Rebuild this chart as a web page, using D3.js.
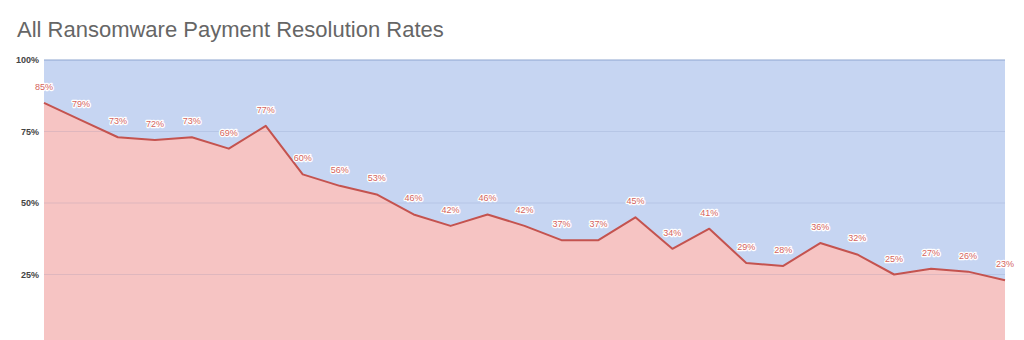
<!DOCTYPE html>
<html><head><meta charset="utf-8">
<script src="https://cdn.jsdelivr.net/npm/d3@7"></script>
<style>
html,body{margin:0;padding:0;background:#fff;overflow:hidden;}
svg{display:block;}
</style></head>
<body>
<svg id="c" width="1024" height="340"></svg>
<script>
const title = "All Ransomware Payment Resolution Rates";
const periods = d3.range(1, 28);
const rates = [85, 79, 73, 72, 73, 69, 77, 60, 56, 53, 46, 42, 46, 42, 37, 37, 45, 34, 41, 29, 28, 36, 32, 25, 27, 26, 23];
const yTicks = [25, 50, 75, 100];

(function () {
const svg = d3.select("#c");
const mLeft = 44, mRight = 1005, mTop = 60, mBottom = 346;

const x = d3.scalePoint().domain(periods).range([mLeft, mRight]);
const y = d3.scaleLinear().domain([0, 100]).range([mBottom, mTop]);
const data = periods.map((p, i) => ({p, v: rates[i]}));

svg.append("text").attr("x", 17).attr("y", 37)
  .attr("font-family", "Liberation Sans, Arial, sans-serif")
  .attr("font-size", 22).attr("fill", "#666").text(title);

svg.append("path").datum(data)
  .attr("d", d3.area().x(d => x(d.p)).y0(y(0)).y1(y(100)))
  .attr("fill", "#c6d5f2");

svg.append("path").datum(data)
  .attr("d", d3.area().x(d => x(d.p)).y0(y(0)).y1(d => y(d.v)))
  .attr("fill", "#f6c4c3");

svg.append("g").selectAll("line").data(yTicks).join("line")
  .attr("x1", mLeft).attr("x2", mRight)
  .attr("y1", d => y(d)).attr("y2", d => y(d))
  .attr("stroke", d => d === 100 ? "#8ea6cf" : "#6070a0")
  .attr("stroke-opacity", d => d === 100 ? 1 : 0.15)
  .attr("stroke-width", 1.2);

svg.append("g").selectAll("text").data(yTicks).join("text")
  .attr("x", 39).attr("y", d => y(d) + 3)
  .attr("text-anchor", "end")
  .attr("font-family", "Liberation Sans, Arial, sans-serif")
  .attr("font-size", 9).attr("font-weight", "bold")
  .attr("fill", "#444")
  .text(d => d + "%");

svg.append("path").datum(data)
  .attr("d", d3.line().x(d => x(d.p)).y(d => y(d.v)))
  .attr("fill", "none").attr("stroke", "#c4534f").attr("stroke-width", 2)
  .attr("stroke-linejoin", "round");

svg.append("g").selectAll("text").data(data).join("text")
  .attr("x", d => x(d.p)).attr("y", d => y(d.v) - 13)
  .attr("text-anchor", "middle")
  .attr("font-family", "Liberation Sans, Arial, sans-serif")
  .attr("font-size", 9)
  .attr("fill", "#d4645d")
  .attr("stroke", "#fff").attr("stroke-width", 2.5).attr("paint-order", "stroke")
  .attr("stroke-linejoin", "round")
  .text(d => d.v + "%");
})();
</script>
</body></html>
